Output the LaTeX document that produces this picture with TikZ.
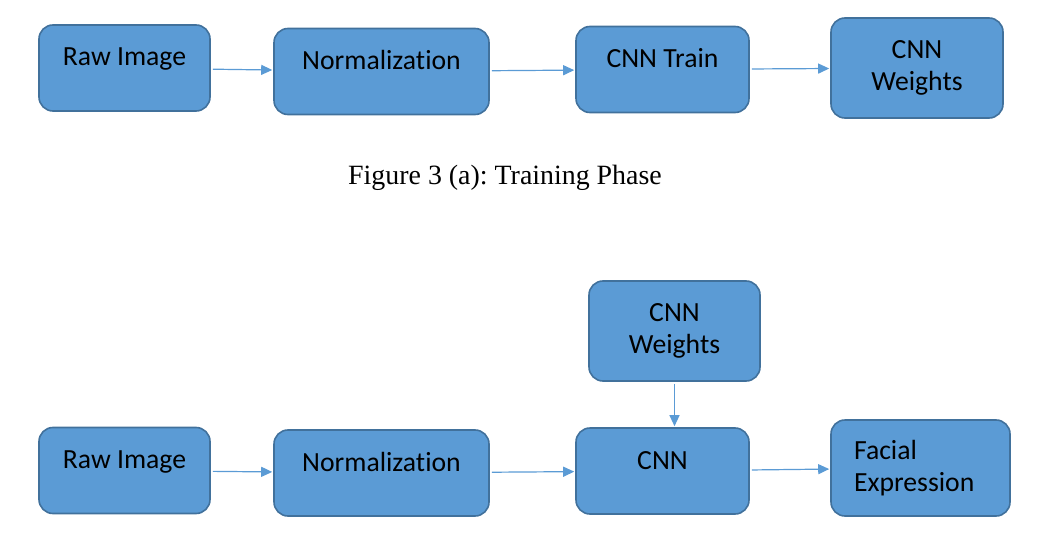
\documentclass[tikz,border=0pt]{standalone}
\usepackage{fontspec}
\setmainfont[Ligatures=NoCommon]{Carlito}
\newfontfamily\capfont{Liberation Serif}
\usetikzlibrary{arrows.meta}
\definecolor{boxblue}{HTML}{5B9BD5}
\definecolor{boxedge}{HTML}{41719C}
\frenchspacing

\begin{document}
\begin{tikzpicture}[x=1pt,y=-1pt,
	block_node/.style={rectangle,rounded corners=14pt,fill=boxblue,draw=boxedge,line width=1.6pt,inner xsep=2pt,inner ysep=0pt,font=\fontsize{27.7}{32}\selectfont},
	top_text/.style={text height=41pt,text depth=45pt},
	flow_arrow/.style={draw=boxblue,line width=1.2pt,shorten <=2pt,shorten >=1pt,-{Triangle[length=11pt,width=10pt]}}]

		\useasboundingbox (0,0) rectangle (1051,545);

		% training phase
		\node[block_node,top_text,minimum width=171pt] (raw1) at (124.5,68) {Raw Image};
		\node[block_node,top_text,minimum width=215pt] (norm1) at (381.5,71.5) {Normalization};
		\node[block_node,top_text,minimum width=173pt] (train) at (662.5,69.5) {CNN Train};
		\node[block_node,align=center,minimum width=172pt,minimum height=100pt] (weights1) at (917,68) {CNN\\Weights};

		\node[font=\capfont\fontsize{27.9}{32}\selectfont] (caption) at (505,178) {Figure 3 (a): Training Phase};

		% testing phase
		\node[block_node,top_text,minimum width=171pt] (raw2) at (124.5,470.5) {Raw Image};
		\node[block_node,top_text,minimum width=215pt] (norm2) at (381.5,473) {Normalization};
		\node[block_node,top_text,minimum width=173pt] (cnn) at (662.5,471) {CNN};
		\node[block_node,align=center,minimum width=171pt,minimum height=100pt] (weights2) at (674.5,331) {CNN\\Weights};
		\node[block_node,align=left,text width=133pt,minimum width=179pt,minimum height=96pt] (facial) at (920.5,468) {Facial\\Expression};

		\draw (raw1) edge[flow_arrow] (norm1);
		\draw (norm1) edge[flow_arrow] (train);
		\draw (train) edge[flow_arrow] (weights1);
		\draw (raw2) edge[flow_arrow] (norm2);
		\draw (norm2) edge[flow_arrow] (cnn);
		\draw (cnn) edge[flow_arrow] (facial);
		\draw (weights2) edge[flow_arrow] (weights2.south |- cnn.north);
		\end{tikzpicture}
\end{document}
